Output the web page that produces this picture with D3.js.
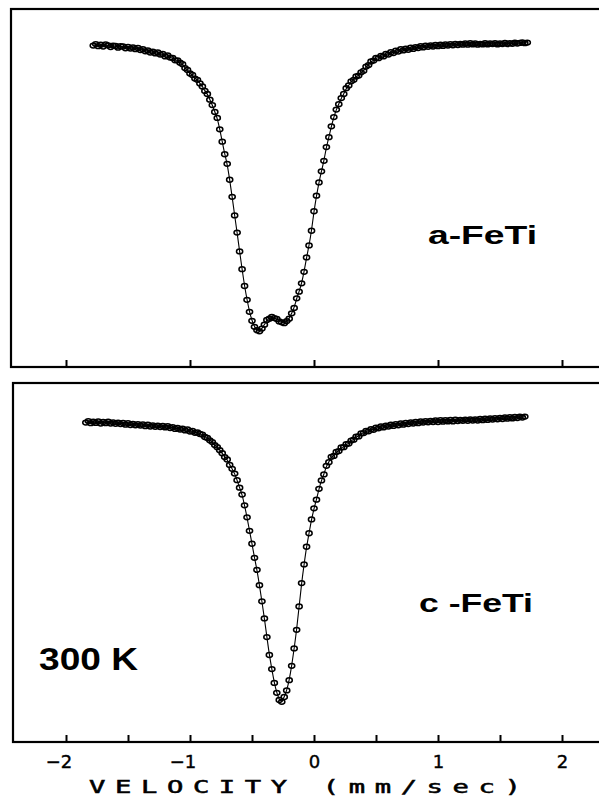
<!DOCTYPE html>
<html>
<head>
<meta charset="utf-8">
<script src="https://cdn.jsdelivr.net/npm/d3@7"></script>
<style>
  body { margin: 0; background: #fff; }
</style>
</head>
<body>
<div id="chart"></div>
<script>
// velocity channels (mm/sec) and relative transmission (%)
const velA = [
    -1.78,-1.76,-1.74,-1.72,-1.70,-1.68,-1.66,-1.64,-1.62,-1.60,
    -1.58,-1.56,-1.54,-1.52,-1.50,-1.48,-1.46,-1.44,-1.42,-1.40,
    -1.38,-1.36,-1.34,-1.32,-1.30,-1.28,-1.26,-1.24,-1.22,-1.20,
    -1.18,-1.16,-1.14,-1.12,-1.10,-1.08,-1.06,-1.04,-1.02,-1.00,
    -0.98,-0.96,-0.94,-0.92,-0.90,-0.88,-0.86,-0.84,-0.82,-0.80,
    -0.78,-0.76,-0.74,-0.72,-0.70,-0.68,-0.66,-0.64,-0.62,-0.60,
    -0.58,-0.56,-0.54,-0.52,-0.50,-0.48,-0.46,-0.44,-0.42,-0.40,
    -0.38,-0.36,-0.34,-0.32,-0.30,-0.28,-0.26,-0.24,-0.22,-0.20,
    -0.18,-0.16,-0.14,-0.12,-0.10,-0.08,-0.06,-0.04,-0.02,0.00,
    0.02,0.04,0.06,0.08,0.10,0.12,0.14,0.16,0.18,0.20,
    0.22,0.24,0.26,0.28,0.30,0.32,0.34,0.36,0.38,0.40,
    0.42,0.44,0.46,0.48,0.50,0.52,0.54,0.56,0.58,0.60,
    0.62,0.64,0.66,0.68,0.70,0.72,0.74,0.76,0.78,0.80,
    0.82,0.84,0.86,0.88,0.90,0.92,0.94,0.96,0.98,1.00,
    1.02,1.04,1.06,1.08,1.10,1.12,1.14,1.16,1.18,1.20,
    1.22,1.24,1.26,1.28,1.30,1.32,1.34,1.36,1.38,1.40,
    1.42,1.44,1.46,1.48,1.50,1.52,1.54,1.56,1.58,1.60,
    1.62,1.64,1.66,1.68,1.70,1.72
];
const transA = [
    99.98,100.03,99.96,100.01,99.95,100.02,99.99,99.93,99.98,99.97,
    99.91,99.96,99.95,99.89,99.94,99.88,99.92,99.86,99.90,99.83,
    99.86,99.79,99.82,99.75,99.78,99.72,99.75,99.68,99.70,99.62,
    99.65,99.58,99.57,99.49,99.49,99.41,99.36,99.23,99.17,99.05,
    99.00,98.88,98.84,98.72,98.62,98.47,98.37,98.18,98.00,97.77,
    97.57,97.19,96.78,96.36,96.04,95.51,94.94,94.32,93.75,93.12,
    92.53,91.97,91.51,91.11,90.81,90.61,90.50,90.46,90.55,90.68,
    90.84,90.88,90.94,90.90,90.87,90.79,90.76,90.73,90.80,90.88,
    91.06,91.24,91.56,91.78,92.06,92.44,92.92,93.32,93.81,94.46,
    94.98,95.42,95.79,96.14,96.60,96.93,97.29,97.60,97.85,98.03,
    98.23,98.37,98.56,98.65,98.79,98.84,98.95,98.98,99.09,99.14,
    99.28,99.33,99.45,99.48,99.57,99.56,99.64,99.62,99.70,99.68,
    99.76,99.73,99.81,99.78,99.86,99.82,99.88,99.84,99.91,99.87,
    99.93,99.90,99.96,99.92,99.98,99.94,99.99,99.95,100.00,99.96,
    100.01,99.97,100.02,99.98,100.03,99.99,100.04,100.00,100.04,100.01,
    100.05,100.01,100.06,100.02,100.05,100.01,100.04,100.02,100.06,100.02,
    100.05,100.03,100.06,100.02,100.05,100.03,100.07,100.03,100.06,100.04,
    100.08,100.05,100.07,100.09,100.06,100.08
];
const velC = [
    -1.84,-1.82,-1.80,-1.78,-1.76,-1.74,-1.72,-1.70,-1.68,-1.66,
    -1.64,-1.62,-1.60,-1.58,-1.56,-1.54,-1.52,-1.50,-1.48,-1.46,
    -1.44,-1.42,-1.40,-1.38,-1.36,-1.34,-1.32,-1.30,-1.28,-1.26,
    -1.24,-1.22,-1.20,-1.18,-1.16,-1.14,-1.12,-1.10,-1.08,-1.06,
    -1.04,-1.02,-1.00,-0.98,-0.96,-0.94,-0.92,-0.90,-0.88,-0.86,
    -0.84,-0.82,-0.80,-0.78,-0.76,-0.74,-0.72,-0.70,-0.68,-0.66,
    -0.64,-0.62,-0.60,-0.58,-0.56,-0.54,-0.52,-0.50,-0.48,-0.46,
    -0.44,-0.42,-0.40,-0.38,-0.36,-0.34,-0.32,-0.30,-0.28,-0.26,
    -0.24,-0.22,-0.20,-0.18,-0.16,-0.14,-0.12,-0.10,-0.08,-0.06,
    -0.04,-0.02,0.00,0.02,0.04,0.06,0.08,0.10,0.12,0.14,
    0.16,0.18,0.20,0.22,0.24,0.26,0.28,0.30,0.32,0.34,
    0.36,0.38,0.40,0.42,0.44,0.46,0.48,0.50,0.52,0.54,
    0.56,0.58,0.60,0.62,0.64,0.66,0.68,0.70,0.72,0.74,
    0.76,0.78,0.80,0.82,0.84,0.86,0.88,0.90,0.92,0.94,
    0.96,0.98,1.00,1.02,1.04,1.06,1.08,1.10,1.12,1.14,
    1.16,1.18,1.20,1.22,1.24,1.26,1.28,1.30,1.32,1.34,
    1.36,1.38,1.40,1.42,1.44,1.46,1.48,1.50,1.52,1.54,
    1.56,1.58,1.60,1.62,1.64,1.66,1.68,1.70
];
const transC = [
    99.95,100.00,99.93,99.98,99.94,99.99,99.92,99.97,99.93,99.98,
    99.92,99.96,99.91,99.95,99.90,99.94,99.88,99.93,99.87,99.91,
    99.86,99.90,99.85,99.89,99.83,99.88,99.82,99.86,99.81,99.85,
    99.80,99.84,99.79,99.83,99.77,99.80,99.74,99.77,99.72,99.75,
    99.69,99.72,99.65,99.67,99.61,99.62,99.57,99.55,99.47,99.44,
    99.36,99.30,99.20,99.13,99.03,98.93,98.80,98.72,98.54,98.41,
    98.25,98.03,97.78,97.55,97.19,96.79,96.34,95.91,95.44,95.04,
    94.53,93.99,93.42,92.80,92.20,91.73,91.27,90.94,90.70,90.64,
    90.80,91.02,91.36,91.84,92.42,93.04,93.82,94.60,95.22,95.81,
    96.26,96.72,97.09,97.38,97.74,98.02,98.22,98.51,98.63,98.81,
    98.84,98.97,99.00,99.12,99.13,99.23,99.25,99.35,99.38,99.48,
    99.49,99.59,99.60,99.67,99.66,99.73,99.71,99.78,99.76,99.82,
    99.79,99.85,99.82,99.88,99.84,99.90,99.86,99.92,99.88,99.94,
    99.90,99.96,99.92,99.97,99.93,99.99,99.95,100.00,99.96,100.01,
    99.97,100.02,99.97,100.03,99.98,100.03,99.99,100.04,99.99,100.05,
    100.00,100.04,100.01,100.05,100.01,100.06,100.02,100.06,100.02,100.07,
    100.03,100.08,100.04,100.09,100.05,100.10,100.06,100.11,100.07,100.12,
    100.08,100.13,100.09,100.14,100.10,100.15,100.12,100.15
];

// axis ticks and labels
const xTicks = [-2, -1, 0, 1, 2];
const xHalfTicks = [-2, -1.5, -1, -0.5, 0, 0.5, 1, 1.5, 2];
const yDomainA = [89.27, 101.2];
const yDomainC = [89.3, 101.27];
const panelLabels = ["a-FeTi", "c -FeTi"];
const tempLabel = "300 K";
const axisTitle = "VELOCITY (mm/sec)";

const svg = d3.select("#chart").append("svg")
    .attr("width", 599)
    .attr("height", 797)
    .style("display", "block")
    .style("background", "#fff");

const x = d3.scaleLinear()
    .domain([-2, 2])
    .range([66, 562]);

function renderPanel(p) {
    const data = p.vel.map((v, i) => ({v: v, t: p.trans[i]}));

    const y = d3.scaleLinear()
        .domain(p.yDomain)
        .range([p.bottom, p.top]);

    const g = svg.append("g");

    // frame (right edge runs off the page as in the scan)
    g.append("rect")
        .attr("x", p.left)
        .attr("y", p.top)
        .attr("width", 640 - p.left)
        .attr("height", p.bottom - p.top)
        .attr("fill", "none")
        .attr("stroke", "#000")
        .attr("stroke-width", 2.2);

    // ticks pointing up into the panel
    const axis = g.append("g")
        .attr("transform", `translate(0,${p.bottom})`)
        .call(d3.axisBottom(x).tickValues(p.ticks).tickSizeInner(-7).tickSizeOuter(0).tickFormat(""));
    axis.select(".domain").remove();
    axis.selectAll(".tick line")
        .attr("stroke", "#000")
        .attr("stroke-width", 2);

    // fitted curve
    const line = d3.line()
        .x(d => x(d.v))
        .y(d => y(d.t))
        .curve(d3.curveBasis);

    g.append("path")
        .datum(data)
        .attr("d", line)
        .attr("fill", "none")
        .attr("stroke", "#000")
        .attr("stroke-width", 1.1);

    // data points
    g.selectAll(".pt")
        .data(data)
        .enter().append("ellipse")
        .attr("class", "pt")
        .attr("cx", d => x(d.v))
        .attr("cy", d => y(d.t))
        .attr("rx", 3.1)
        .attr("ry", 2.4)
        .attr("fill", "none")
        .attr("stroke", "#000")
        .attr("stroke-width", 1.5);

    // sample label
    g.append("text")
        .attr("x", p.lx)
        .attr("y", p.ly)
        .attr("textLength", p.lw)
        .attr("lengthAdjust", "spacingAndGlyphs")
        .attr("font-family", "Liberation Sans, Arial, sans-serif")
        .attr("font-weight", "bold")
        .attr("font-size", 26)
        .attr("fill", "#000")
        .text(p.label);
}

renderPanel({vel: velA, trans: transA, yDomain: yDomainA, left: 11, top: 9, bottom: 367,
    ticks: xTicks, label: panelLabels[0], lx: 428, ly: 244, lw: 109});
renderPanel({vel: velC, trans: transC, yDomain: yDomainC, left: 13, top: 383, bottom: 742,
    ticks: xHalfTicks, label: panelLabels[1], lx: 419, ly: 612, lw: 114});

// tick labels under the lower panel
const labelAxis = svg.append("g")
    .attr("transform", "translate(0,742)")
    .call(d3.axisBottom(x).tickValues(xTicks).tickSize(0).tickPadding(13).tickFormat(d3.format("d")));
labelAxis.select(".domain").remove();
labelAxis.selectAll("text")
    .attr("font-family", "DejaVu Sans, sans-serif")
    .attr("font-size", 18)
    .attr("text-anchor", "end")
    .attr("dx", 5.7)
    .attr("fill", "#000")
    .attr("stroke", "#000")
    .attr("stroke-width", 0.4);

// temperature
svg.append("text")
    .attr("x", 39)
    .attr("y", 670)
    .attr("textLength", 99)
    .attr("lengthAdjust", "spacingAndGlyphs")
    .attr("font-family", "Liberation Sans, Arial, sans-serif")
    .attr("font-weight", "bold")
    .attr("font-size", 31)
    .text(tempLabel);

// axis title in a wide plotter-like lettering
svg.append("text")
    .attr("transform", "translate(89,793) scale(1.6,1)")
    .attr("font-family", "DejaVu Sans Mono, monospace")
    .attr("font-size", 17)
    .attr("letter-spacing", 6)
    .attr("fill", "#000")
    .attr("stroke", "#000")
    .attr("stroke-width", 0.5)
    .text(axisTitle);
</script>
</body>
</html>
